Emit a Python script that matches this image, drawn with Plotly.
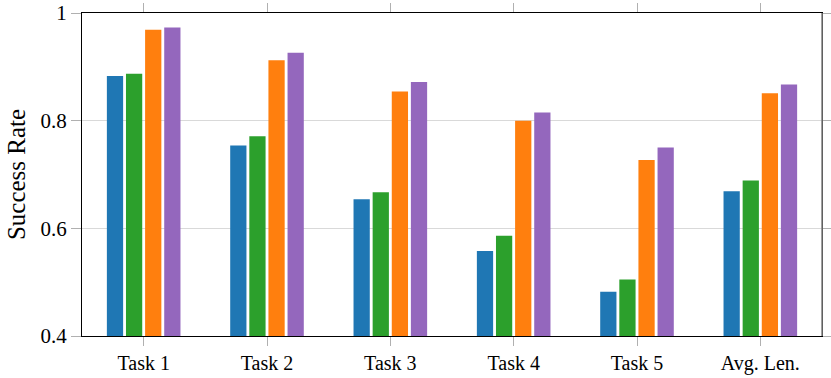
import plotly.graph_objects as go

tasks = ["Task 1", "Task 2", "Task 3", "Task 4", "Task 5", "Avg. Len."]

blue_vals = [0.883, 0.754, 0.654, 0.558, 0.482, 0.669]
green_vals = [0.887, 0.771, 0.667, 0.586, 0.505, 0.689]
orange_vals = [0.969, 0.912, 0.854, 0.800, 0.727, 0.851]
purple_vals = [0.973, 0.926, 0.872, 0.815, 0.750, 0.867]

series = [
    ("blue", blue_vals, "#1f77b4"),
    ("green", green_vals, "#2ca02c"),
    ("orange", orange_vals, "#ff7f0e"),
    ("purple", purple_vals, "#9467bd"),
]

serif = "Liberation Serif, DejaVu Serif, serif"

fig = go.Figure()
for name, vals, color in series:
    fig.add_trace(go.Bar(
        x=tasks, y=vals, name=name,
        marker=dict(color=color, line=dict(width=0)),
    ))

fig.update_layout(
    width=831, height=378,
    margin=dict(l=82, r=9, t=13, b=42, autoexpand=False),
    barmode="group",
    bargap=0.38,
    bargroupgap=0.15,
    showlegend=False,
    plot_bgcolor="white",
    paper_bgcolor="white",
    font=dict(family=serif, size=20, color="black"),
    xaxis=dict(
        showline=True, linecolor="black", linewidth=1, mirror="allticks",
        ticks="outside", ticklen=9, tickcolor="#b0b0b0", tickwidth=1,
        showgrid=False,
        range=[-0.5, 5.5],
        tickfont=dict(size=20),
    ),
    yaxis=dict(
        range=[0.4, 1.0],
        tickvals=[0.4, 0.6, 0.8, 1.0],
        ticktext=["0.4", "0.6", "0.8", "1"],
        showline=True, linecolor="black", linewidth=1, mirror="allticks",
        ticks="outside", ticklen=10, tickcolor="#b0b0b0", tickwidth=1,
        showgrid=True, gridcolor="#d9d9d9", gridwidth=1,
        zeroline=False,
        tickfont=dict(size=21),
        title=dict(text="Success Rate", font=dict(size=25), standoff=7),
    ),
)

# right edge of the frame is grey in the original
fig.add_shape(type="line", xref="paper", yref="paper", x0=1, x1=1, y0=0, y1=1,
              line=dict(color="#808080", width=1.5))

fig.write_html("out.html", config={"displayModeBar": False},
               post_script="document.body.style.margin='0';")
